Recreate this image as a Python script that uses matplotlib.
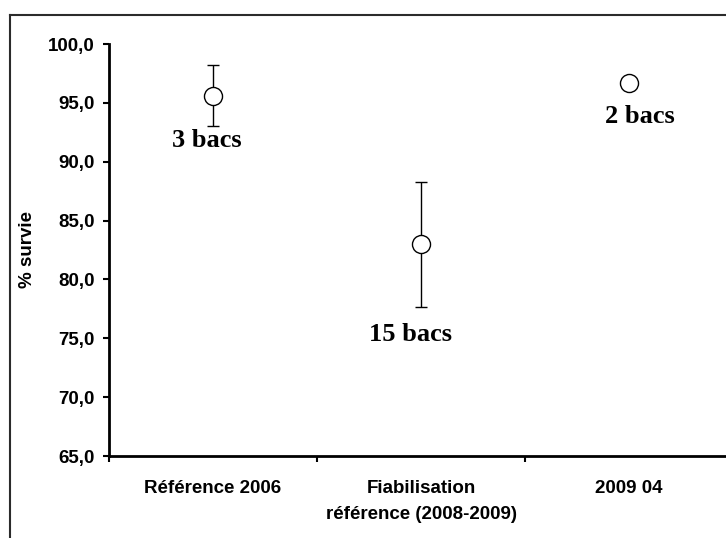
import matplotlib.pyplot as plt
from matplotlib.lines import Line2D
from matplotlib.ticker import FixedLocator, FuncFormatter

# survie moyenne par groupe de bacs
groupes = ['Référence 2006', 'Fiabilisation\nréférence (2008-2009)', '2009 04']
survie = [95.6, 83.0, 96.7]
ecart = [2.6, 5.3, 0.0]
etiquettes = ['3 bacs', '15 bacs', '2 bacs']
etiq_pos = [(0.47, 91.8), (1.45, 75.3), (2.55, 93.8)]

fig = plt.figure(figsize=(7.26, 5.38), dpi=100)
ax = fig.add_axes([109 / 726, 1 - 456 / 538, 624 / 726, 412 / 538])

# cadre extérieur
fig.add_artist(Line2D([9.5 / 726, 9.5 / 726], [0, 1 - 15 / 538],
                      transform=fig.transFigure, color='#2b2b2b', lw=1.5))
fig.add_artist(Line2D([9.5 / 726, 1], [1 - 15 / 538, 1 - 15 / 538],
                      transform=fig.transFigure, color='#2b2b2b', lw=1.5))

x = [i + 0.5 for i in range(len(groupes))]
for xi, yi, ei in zip(x, survie, ecart):
    if ei > 0:
        ax.errorbar(xi, yi, yerr=ei, fmt='none', ecolor='black', elinewidth=1.0,
                    capsize=4, capthick=1.0, zorder=2)
ax.plot(x, survie, 'o', ls='none', ms=13, mfc='white', mec='black', mew=1.0, zorder=3)

for (tx, ty), txt in zip(etiq_pos, etiquettes):
    ax.text(tx, ty, txt, ha='center', va='center', family='Liberation Serif',
            fontweight='bold', fontsize=19)

ax.set_xlim(0, 3)
ax.set_ylim(65, 100)
ax.set_yticks([65, 70, 75, 80, 85, 90, 95, 100])
ax.yaxis.set_major_formatter(FuncFormatter(lambda v, p: f'{v:.1f}'.replace('.', ',')))
ax.xaxis.set_major_locator(FixedLocator([0, 1, 2, 3]))
ax.xaxis.set_major_formatter(FuncFormatter(lambda v, p: ''))
ax.xaxis.set_minor_locator(FixedLocator(x))
ax.set_xticklabels(groupes, minor=True)

for lab in ax.get_yticklabels() + ax.get_xticklabels(minor=True):
    lab.set_family('Liberation Sans')
    lab.set_fontweight('bold')
    lab.set_fontsize(13.5)
ax.tick_params(axis='y', length=4, width=1.5, pad=6)
ax.tick_params(axis='x', which='major', length=4, width=1.5, direction='out')
ax.tick_params(axis='x', which='minor', length=0, pad=17)
for lab in ax.get_xticklabels(minor=True):
    lab.set_linespacing(1.75)

ax.set_ylabel('% survie', family='Liberation Sans', fontweight='bold', fontsize=13.5)
ax.yaxis.set_label_coords(-0.131, 0.5)
ax.yaxis.label.set_va('center')

for s in ['top', 'right']:
    ax.spines[s].set_visible(False)
for s in ['left', 'bottom']:
    ax.spines[s].set_linewidth(2.0)

fig.savefig('out.png', dpi=100)
